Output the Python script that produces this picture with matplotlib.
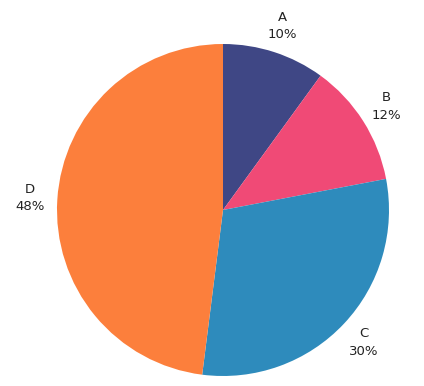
import matplotlib
matplotlib.use("Agg")
import matplotlib.pyplot as plt

# data
categories = ["A", "B", "C", "D"]
shares = [10, 12, 30, 48]
colors = ["#3f4785", "#f04a76", "#2e8bbc", "#fc7f3c"]

fig = plt.figure(figsize=(4.24, 3.86), dpi=100)
# pie centre ~ (223, 210) px, radius ~166 px
cx, cy, r = 223, 210, 166
ax = fig.add_axes([(cx - r) / 424, (386 - cy - r) / 386, 2 * r / 424, 2 * r / 386])

labels = ["{}\n{}%".format(c, v) for c, v in zip(categories, shares)]
wedges, texts = ax.pie(shares, labels=labels, colors=colors, startangle=90,
                       counterclock=False, labeldistance=1.165, radius=1.0,
                       wedgeprops={"linewidth": 0})
for t in texts:
    t.set_ha("center")
    t.set_va("center")
    t.set_multialignment("center")
    t.set_fontsize(9.5)
    t.set_linespacing(1.45)
    t.set_color("#222222")

ax.set_xlim(-1, 1)
ax.set_ylim(-1, 1)
ax.set_aspect("equal")
ax.axis("off")

fig.savefig("out.png", dpi=100)
